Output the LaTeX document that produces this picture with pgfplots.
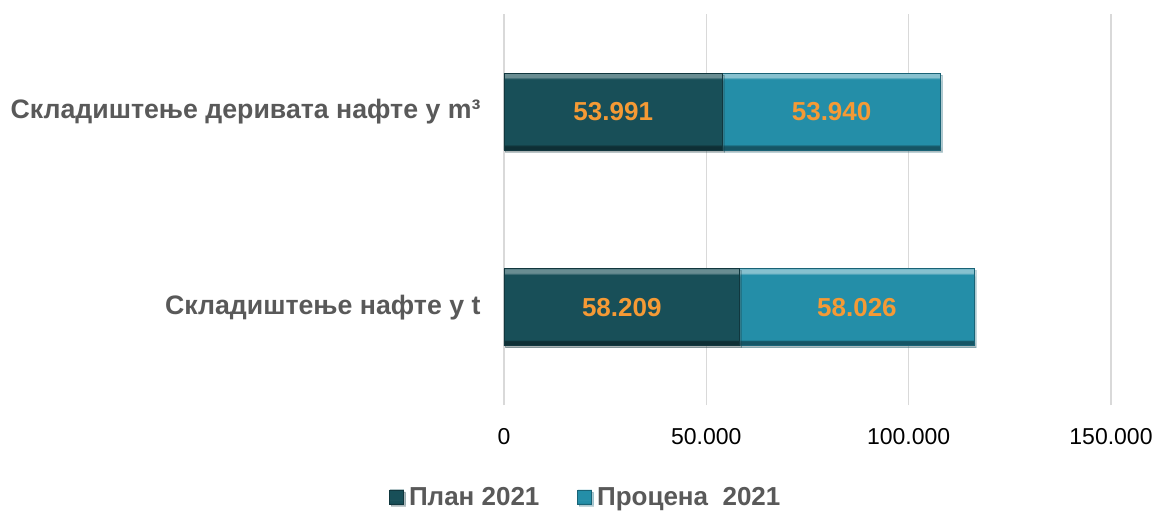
\documentclass[border=0pt]{standalone}
\usepackage{pgfplots}
\pgfplotsset{compat=1.18}
\usepackage{fontspec}
\setmainfont{Liberation Sans}
\usetikzlibrary{shadows}
\definecolor{plan}{HTML}{184F58}
\definecolor{proc}{HTML}{248EA8}
\definecolor{lbl}{HTML}{595959}
\definecolor{org}{HTML}{F59A35}
\definecolor{grd}{HTML}{D9D9D9}
% one shading spans both bars of a series (bars of one plot form one path)
\pgfdeclareverticalshading{planbevel}{100bp}{color(0bp)=(plan!60!black); color(25.9bp)=(plan!60!black); color(26.1bp)=(plan); color(38.1bp)=(plan); color(38.3bp)=(plan!65!white); color(39.1bp)=(plan!65!white); color(39.3bp)=(plan); color(60.8bp)=(plan); color(60.9bp)=(plan!60!black); color(61.7bp)=(plan!60!black); color(61.9bp)=(plan); color(74bp)=(plan); color(74.2bp)=(plan!65!white); color(100bp)=(plan!65!white)}
\pgfdeclareverticalshading{procbevel}{100bp}{color(0bp)=(proc!60!black); color(25.9bp)=(proc!60!black); color(26.1bp)=(proc); color(38.1bp)=(proc); color(38.3bp)=(proc!55!white); color(39.1bp)=(proc!55!white); color(39.3bp)=(proc); color(60.8bp)=(proc); color(60.9bp)=(proc!60!black); color(61.7bp)=(proc!60!black); color(61.9bp)=(proc); color(74bp)=(proc); color(74.2bp)=(proc!55!white); color(100bp)=(proc!55!white)}
\begin{document}
\begin{tikzpicture}
\path[use as bounding box] (-504bp,-106bp) rectangle (652bp,405bp);
\begin{axis}[
 at={(0,0)}, anchor=south west,
 scale only axis, width=607bp, height=391bp,
 xbar stacked, bar width=77bp,
 xmin=0, xmax=150, ymin=-0.5, ymax=1.5,
 xtick={0,50,100,150}, xticklabels={0,50.000,100.000,150.000},
 ytick={0,1},
 yticklabels={Складиштење нафте у t, Складиштење деривата нафте у m³},
 xmajorgrids, grid style={grd, line width=1.5bp},
 axis line style={draw=none}, major tick length=0,
 /pgf/number format/fixed,
 /pgf/number format/precision=0,
 /pgf/number format/1000 sep={.},
 /pgf/number format/assume math mode=true,
 xticklabel style={font=\fontsize{23bp}{27bp}\selectfont, text=black, yshift=-20bp},
 yticklabel style={font=\fontsize{26.7bp}{30bp}\selectfont\bfseries, text=lbl, xshift=-20bp},
 legend style={at={(0.135,-0.235)}, anchor=center, legend columns=2, draw=none,
   font=\fontsize{26bp}{30bp}\selectfont\bfseries, text=lbl,
   /tikz/every even column/.append style={column sep=36bp},
   /tikz/every odd column/.append style={column sep=3bp}},
 legend image code/.code={\path[#1] (0bp,-7bp) rectangle (14bp,7bp);},
 point meta=explicit,
 nodes near coords,
 every node near coord/.style={anchor=center, text=org,
   font=\fontsize{26bp}{30bp}\selectfont\bfseries},
]
\addplot[draw=plan!70!black, line width=0.6bp, shading=planbevel, shade,
  drop shadow={shadow xshift=1.5bp, shadow yshift=-2bp, opacity=0.25}]
  coordinates {(58.209,0) [58209] (53.991,1) [53991]};
\addplot[draw=proc!70!black, line width=0.6bp, shading=procbevel, shade,
  drop shadow={shadow xshift=1.5bp, shadow yshift=-2bp, opacity=0.25}]
  coordinates {(58.026,0) [58026] (53.940,1) [53940]};
\legend{План 2021, Процена\ \ 2021}
\end{axis}
\end{tikzpicture}
\end{document}
